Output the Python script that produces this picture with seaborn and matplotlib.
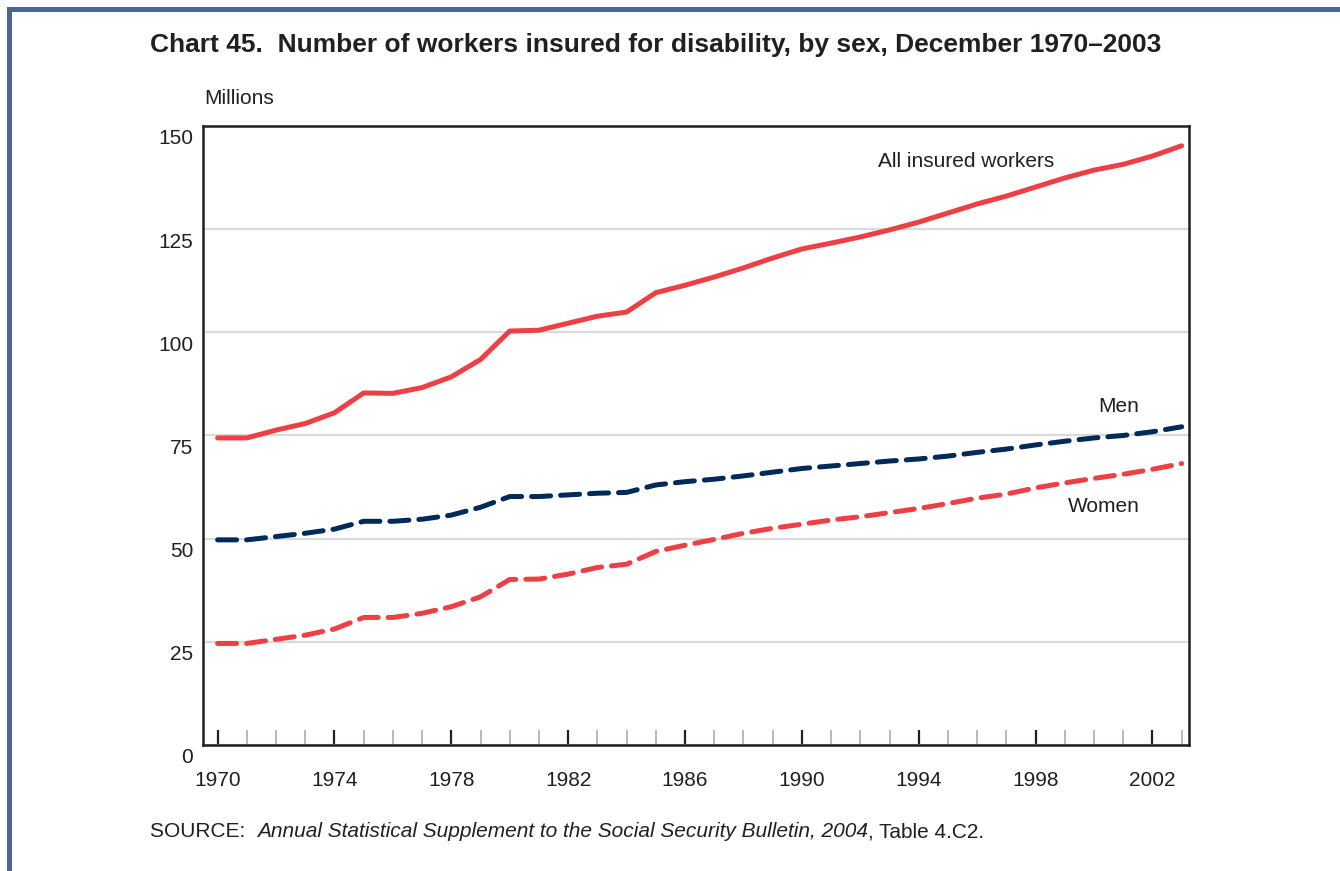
import matplotlib
matplotlib.use("Agg")
import matplotlib.pyplot as plt
import matplotlib.ticker as ticker
import matplotlib.transforms as mtransforms
from matplotlib.patches import Rectangle
import pandas as pd
import seaborn as sns

# values (millions, December of each year)
years = list(range(1970, 2004))
all_workers = [74.4, 74.4, 76.3, 77.9, 80.5, 85.3, 85.2, 86.6, 89.2, 93.4,
               100.3, 100.5, 102.2, 103.9, 104.9, 109.6, 111.4, 113.4, 115.6, 118.0,
               120.2, 121.6, 123.1, 124.8, 126.7, 128.9, 131.1, 133.0, 135.2, 137.4,
               139.3, 140.7, 142.7, 145.2]
men = [49.7, 49.7, 50.5, 51.3, 52.3, 54.2, 54.2, 54.7, 55.7, 57.6,
       60.2, 60.2, 60.6, 61.0, 61.2, 63.0, 63.8, 64.4, 65.2, 66.1,
       67.0, 67.6, 68.2, 68.8, 69.3, 70.0, 70.9, 71.7, 72.7, 73.6,
       74.4, 75.0, 75.9, 77.1]
women = [24.6, 24.6, 25.6, 26.6, 28.1, 30.9, 30.9, 31.9, 33.5, 35.9,
         40.1, 40.2, 41.4, 43.0, 43.8, 46.9, 48.4, 49.8, 51.3, 52.5,
         53.5, 54.5, 55.3, 56.3, 57.3, 58.5, 59.8, 60.8, 62.3, 63.5,
         64.6, 65.6, 66.8, 68.2]

y_ticks = [0, 25, 50, 75, 100, 125, 150]
x_ticks = list(range(1970, 2003, 4))

RED = "#EE3F45"
NAVY = "#002A5A"
FRAME = "#4A6695"
INK = "#231F20"

df = pd.DataFrame({"year": years, "all": all_workers, "men": men, "women": women})

sns.set_style("white")
plt.rcParams["font.family"] = ["Liberation Sans", "DejaVu Sans"]
plt.rcParams["lines.dash_capstyle"] = "round"
plt.rcParams["lines.solid_capstyle"] = "round"

fig = plt.figure(figsize=(13.4, 8.71), dpi=100)
ax = fig.add_axes([0.1515, 0.1447, 0.7358, 0.7107])

sns.lineplot(data=df, x="year", y="all", ax=ax, color=RED, lw=3.6)
sns.lineplot(data=df, x="year", y="men", ax=ax, color=NAVY, lw=3.6)
sns.lineplot(data=df, x="year", y="women", ax=ax, color=RED, lw=3.6)
for ln in ax.lines[1:]:
    ln.set_dashes((3.8, 2.0))
    ln.set_dash_capstyle("round")

ax.set_xlim(1969.5, 2003.25)
ax.set_ylim(0, 150)
ax.set_xlabel("")
ax.set_ylabel("")

ax.set_yticks(y_ticks)
ax.set_yticklabels([str(v) for v in y_ticks])
ax.tick_params(axis="y", left=False, length=0, pad=7, labelsize=15, labelcolor=INK)
shift = mtransforms.ScaledTranslation(0, -0.11, fig.dpi_scale_trans)
for lab in ax.get_yticklabels():
    lab.set_transform(lab.get_transform() + shift)

ax.set_xticks(x_ticks)
ax.set_xticklabels([str(v) for v in x_ticks])
ax.xaxis.set_minor_locator(ticker.MultipleLocator(1))
ax.tick_params(axis="x", which="major", bottom=True, direction="in", length=10.5,
               width=1.6, color=INK, pad=19, labelsize=15, labelcolor=INK)
ax.tick_params(axis="x", which="minor", bottom=True, direction="in", length=10.5,
               width=1.4, color="#B5B8BB")

ax.grid(axis="y", color="#DADADA", lw=1.6)
ax.set_axisbelow(True)
for sp in ax.spines.values():
    sp.set_color(INK)
    sp.set_linewidth(1.8)
    sp.set_visible(True)

ax.text(1998.65, 141.5, "All insured workers", ha="right", va="center",
        fontsize=15, color=INK)
ax.text(2001.55, 82.1, "Men", ha="right", va="center", fontsize=15, color=INK)
ax.text(2001.55, 57.7, "Women", ha="right", va="center", fontsize=15, color=INK)

fig.text(150 / 1340, 1 - 45 / 871,
         "Chart 45.  Number of workers insured for disability, by sex, December 1970\u20132003",
         ha="left", va="center", fontsize=19, fontweight="bold", color=INK)
fig.text(204 / 1340, 1 - 99 / 871, "Millions", ha="left", va="center",
         fontsize=15, color=INK)

# source line in mixed styles
s1 = fig.text(150 / 1340, 1 - 841 / 871, "SOURCE:  ", ha="left", va="bottom",
              fontsize=15, color=INK)
s2 = ax.annotate("Annual Statistical Supplement to the Social Security Bulletin, 2004",
                 xy=(1, 0), xycoords=s1, ha="left", va="bottom", fontsize=15,
                 style="italic", color=INK, annotation_clip=False)
ax.annotate(", Table 4.C2.", xy=(1, 0), xycoords=s2, ha="left", va="bottom",
            fontsize=15, color=INK, annotation_clip=False)

# blue frame along top and left edge
fig.add_artist(Rectangle((7 / 1340, 1 - 12 / 871), 1, 5 / 871, transform=fig.transFigure,
                         color=FRAME, lw=0))
fig.add_artist(Rectangle((7 / 1340, 0), 5 / 1340, 1 - 7 / 871, transform=fig.transFigure,
                         color=FRAME, lw=0))

fig.savefig("out.png", dpi=100, facecolor="white")
